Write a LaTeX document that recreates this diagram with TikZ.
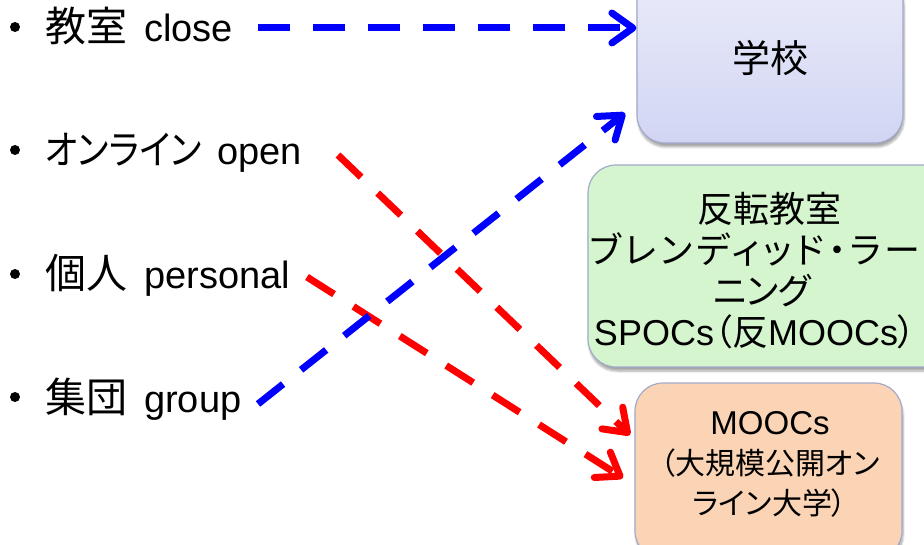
\documentclass[tikz,border=0pt]{standalone}
\usepackage{fontspec}
\usepackage{graphicx}
\setmainfont{Liberation Sans}
\newfontfamily\jpfont[RawFeature=+palt]{Noto Sans CJK JP}
\newfontfamily\jpwide[RawFeature=+palt, LetterSpace=11]{Noto Sans CJK JP}
\usetikzlibrary{arrows.meta,shadows.blur}
\newcommand\jp[1]{{\jpfont #1}}
% Japanese head word of a list item, in a box of fixed width so the English word lines up
\newcommand\headword[3]{\makebox[#1][l]{\fontsize{#2}{#2}\selectfont\jpfont #3}}

\definecolor{schooltop}{HTML}{EAECF9}
\definecolor{schoolbot}{HTML}{D1D5F3}
\definecolor{flipfill}{HTML}{D5F5CF}
\definecolor{moocfill}{HTML}{FBD4B5}
\definecolor{boxedge}{HTML}{A3A9CB}

\begin{document}
\begin{tikzpicture}[x=1pt,y=-1pt,
  itemtext/.style={font=\fontsize{38}{46}\selectfont, inner sep=0pt, anchor=base west},
  dot/.style={circle, fill=black, minimum size=10pt, inner sep=0pt},
  card/.style={rectangle, rounded corners=28pt, draw=boxedge, line width=1.2pt,
    blur shadow={shadow xshift=1pt, shadow yshift=-4pt, shadow blur steps=8, shadow opacity=35}},
  cardtext/.style={align=center, inner sep=0pt},
  link/.style={line width=7pt, dash pattern=on 32pt off 23pt,
    -{Straight Barb[length=21pt, width=30pt, round]}},
  openlink/.style={link, draw={rgb,255:red,0;green,0;blue,255}},
  shutlink/.style={link, draw={rgb,255:red,255;green,0;blue,0}},
]
\useasboundingbox (0,0) rectangle (924,545);
\clip (0,0) rectangle (924,545);

% bulleted list on the left
\node[dot] (b1) at (15,27) {};
\node[dot] (b2) at (15,150) {};
\node[dot] (b3) at (15,274) {};
\node[dot] (b4) at (15,397) {};
\node[itemtext] (close)    at (45,42)  {\headword{99pt}{41}{教室}close};
\node[itemtext] (open)     at (45,165) {\makebox[172pt][l]{\scalebox{0.88}[1]{\fontsize{40}{40}\selectfont\jpfont オンライン}}open};
\node[itemtext] (personal) at (45,289) {\headword{99pt}{41}{個人}personal};
\node[itemtext] (group)    at (45,412) {\headword{99pt}{41}{集団}group};

% three rounded cards on the right
\node[card, top color=schooltop, bottom color=schoolbot,
  minimum width=266pt, minimum height=170pt,
  font=\fontsize{38}{46}\selectfont] (school) at (770,58) {\jp{学校}};

\node[card, fill=flipfill, minimum width=364pt, minimum height=202pt] (flip) at (770,266) {};
\node[cardtext, font=\fontsize{36}{41}\selectfont] (fliptext) at (755,271)
  {\hspace*{28pt}\jp{反転教室}\\
   {\jpwide ブレンディッド・ラー}\\
   \hspace*{14pt}\jp{ニング}\\
   SPOCs\jp{（反}MOOCs\jp{）}};

\node[card, fill=moocfill, minimum width=267pt, minimum height=176pt] (mooc) at (768.5,471) {};
\node[cardtext, font=\fontsize{30}{40}\selectfont] (mooctext) at (770,464)
  {{\fontsize{33}{40}\selectfont MOOCs}\\ \jp{（大規模公開オン}\\ \jp{ライン大学）}};

% connector end points
\coordinate (c1) at (258,28);
\coordinate (o1) at (338,155);
\coordinate (o2) at (630,435);
\coordinate (p1) at (307,277);
\coordinate (p2) at (623,478);
\coordinate (g1) at (258,404);
\coordinate (g2) at (625,113);

% dashed arrows
\draw[shutlink] (o1) -- (o2);
\draw[shutlink] (p1) -- (p2);
\draw[openlink] (c1) -- (school.west |- c1);
\draw[openlink] (g1) -- (g2);
\end{tikzpicture}
\end{document}
